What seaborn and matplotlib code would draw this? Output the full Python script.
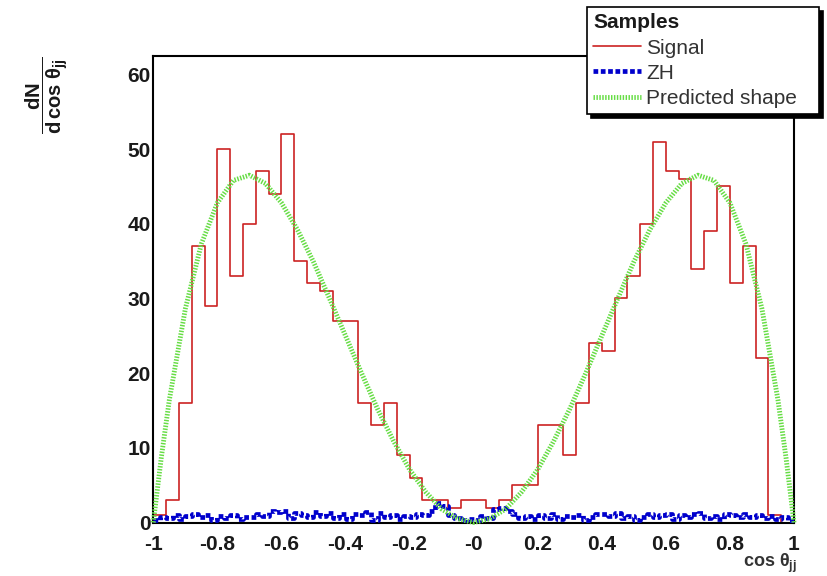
import numpy as np
import pandas as pd
import matplotlib
matplotlib.use("Agg")
import matplotlib.pyplot as plt
import seaborn as sns
from matplotlib.lines import Line2D
from matplotlib.ticker import MultipleLocator

# ---------------- data ----------------
x_range = (-1.0, 1.0)
signal_nbins = 50
signal_counts = [1, 3, 16, 37, 29, 50, 33, 40, 47, 44, 52, 35, 32, 31, 27, 27, 16, 13, 16, 9, 6, 3, 3, 2, 3,
                 3, 2, 3, 5, 5, 13, 13, 9, 16, 24, 23, 30, 33, 40, 51, 47, 46, 34, 39, 45, 32, 37, 22, 1, 0]

zh_nbins = 100
zh_counts = [0.3, 0.8, 0.6, 1.0, 0.5, 0.9, 1.1, 0.7, 1.0, 0.4,
             0.9, 0.6, 1.0, 0.5, 0.8, 0.7, 1.2, 0.9, 1.6, 1.4,
             1.5, 0.6, 1.3, 1.0, 0.7, 1.4, 0.9, 1.3, 0.6, 1.1,
             0.5, 1.2, 1.0, 1.4, 0.4, 1.3, 0.7, 1.0, 0.5, 0.9,
             0.8, 1.1, 1.0, 1.5, 2.6, 2.2, 1.0, 0.6, 0.3, 0.5,
             0.4, 0.9, 0.6, 1.8, 2.0, 1.5, 1.2, 0.6, 0.9, 0.5,
             1.0, 0.6, 1.1, 0.5, 0.9, 0.7, 1.0, 0.4, 0.8, 1.2,
             1.1, 0.9, 1.3, 0.6, 0.9, 0.4, 0.7, 1.2, 0.8, 1.0,
             1.2, 0.5, 1.0, 0.7, 1.1, 1.3, 0.6, 0.9, 0.5, 1.1,
             1.0, 0.7, 1.2, 0.8, 1.0, 0.6, 0.9, 0.5, 0.7, 0.2]

pred_x = [-1.0, -0.975, -0.95, -0.9, -0.85, -0.8, -0.75, -0.7, -0.65, -0.6, -0.55, -0.5,
          -0.45, -0.4, -0.35, -0.3, -0.25, -0.2, -0.15, -0.1, -0.05, 0.0,
          0.05, 0.1, 0.15, 0.2, 0.25, 0.3, 0.35, 0.4, 0.45, 0.5, 0.55,
          0.6, 0.65, 0.7, 0.75, 0.8, 0.85, 0.9, 0.95, 0.975, 1.0]
pred_y = [0.0, 8.7, 16.4, 28.6, 37.3, 42.8, 45.8, 46.5, 45.4, 42.8, 39.2, 34.9,
          30.0, 25.0, 20.0, 15.2, 10.9, 7.1, 4.1, 1.8, 0.5, 0.0,
          0.5, 1.8, 4.1, 7.1, 10.9, 15.2, 20.0, 25.0, 30.0, 34.9, 39.2,
          42.8, 45.4, 46.5, 45.8, 42.8, 37.3, 28.6, 16.4, 8.7, 0.0]

x_tick_values = [-1.0, -0.8, -0.6, -0.4, -0.2, 0.0, 0.2, 0.4, 0.6, 0.8, 1.0]
x_tick_labels = ["-1", "-0.8", "-0.6", "-0.4", "-0.2", "-0", "0.2", "0.4", "0.6", "0.8", "1"]
y_tick_values = [0, 10, 20, 30, 40, 50, 60]
y_tick_labels = ["0", "10", "20", "30", "40", "50", "60"]

legend_title = "Samples"
legend_labels = ["Signal", "ZH", "Predicted shape"]

# ---------------- style ----------------
sns.set_style("white")
plt.rcParams["font.family"] = ["Liberation Sans", "DejaVu Sans"]
plt.rcParams["mathtext.fontset"] = "custom"
plt.rcParams["mathtext.rm"] = "Liberation Sans:bold"
plt.rcParams["mathtext.it"] = "Liberation Sans:bold"
plt.rcParams["mathtext.bf"] = "Liberation Sans:bold"
plt.rcParams["mathtext.sf"] = "Liberation Sans:bold"

RED = "#cc2222"
BLUE = "#0000cc"
GREEN = "#66dd44"

fig = plt.figure(figsize=(8.28, 5.76), dpi=100)
fig.patch.set_facecolor("white")
ax = fig.add_axes([153.3 / 828, 1 - 522.5 / 576, 640.7 / 828, (522.5 - 55.7) / 576])

sig_edges = np.linspace(x_range[0], x_range[1], signal_nbins + 1)
zh_edges = np.linspace(x_range[0], x_range[1], zh_nbins + 1)
sig_df = pd.DataFrame({"x": (sig_edges[:-1] + sig_edges[1:]) / 2, "w": signal_counts})
zh_df = pd.DataFrame({"x": (zh_edges[:-1] + zh_edges[1:]) / 2, "w": zh_counts})
pred_df = pd.DataFrame({"x": pred_x, "y": pred_y})

sns.histplot(data=sig_df, x="x", weights="w", bins=sig_edges.tolist(), element="step", fill=False,
             color=RED, linewidth=1.2, ax=ax, zorder=2)
sns.histplot(data=zh_df, x="x", weights="w", bins=zh_edges.tolist(), element="step", fill=False,
             color=BLUE, linewidth=3.4, linestyle=(0, (1, 0.55)), ax=ax, zorder=3)
sns.lineplot(data=pred_df, x="x", y="y", sort=False, estimator=None, color=GREEN,
             linewidth=3.5, linestyle=(0, (0.3, 0.3)), ax=ax, zorder=4, clip_on=False)

ax.set_xlim(*x_range)
ax.set_ylim(0, 62.5)
ax.set_xlabel("")
ax.set_ylabel("")

for s in ax.spines.values():
    s.set_visible(True)
    s.set_color("black")
    s.set_linewidth(1.5)

ax.set_xticks(x_tick_values, labels=x_tick_labels)
ax.set_yticks(y_tick_values, labels=y_tick_labels)
ax.xaxis.set_minor_locator(MultipleLocator(0.04))
ax.yaxis.set_minor_locator(MultipleLocator(2))
ax.tick_params(which="both", direction="in", top=False, right=False, colors="black", width=1.2)
ax.tick_params(axis="y", which="major", length=13.5, pad=2)
ax.tick_params(axis="y", which="minor", length=6.8)
ax.tick_params(axis="x", which="major", length=10, pad=9)
ax.tick_params(axis="x", which="minor", length=5)
for lab in ax.get_xticklabels() + ax.get_yticklabels():
    lab.set_fontsize(15)
    lab.set_fontweight("bold")
    lab.set_color("#1a1a1a")

# axis titles
fig.text(47 / 828, 1 - 95 / 576, r"$\dfrac{dN}{d\,\cos\,\theta_{jj}}$", rotation=90,
         ha="center", va="center", fontsize=14.5, color="#1a1a1a")
fig.text(797 / 828, 1 - 567 / 576, r"cos $\theta_{jj}$", ha="right", va="baseline",
         fontsize=13, fontweight="bold", color="#333333")

# legend
handles = [
    Line2D([], [], color=RED, linewidth=1.2),
    Line2D([], [], color=BLUE, linewidth=3.4, linestyle=(0, (1, 0.55))),
    Line2D([], [], color=GREEN, linewidth=3.5, linestyle=(0, (0.3, 0.3))),
]
leg = fig.legend(handles, legend_labels, title=legend_title, loc="upper left",
                 bbox_to_anchor=(587 / 828, 0.5, 232 / 828, 1 - 7 / 576 - 0.5),
                 mode="expand", borderaxespad=0, fontsize=15,
                 title_fontproperties={"weight": "bold", "size": 15},
                 alignment="left", frameon=True, fancybox=False, framealpha=1,
                 edgecolor="black", facecolor="white",
                 shadow={"color": "black", "alpha": 1, "ox": 3, "oy": -3},
                 handlelength=2.3, handletextpad=0.25, labelspacing=0.3,
                 borderpad=0.3)
leg.get_frame().set_linewidth(1.2)
for t in leg.get_texts():
    t.set_color("#333333")
leg.get_title().set_color("#1a1a1a")

fig.savefig("out.png", dpi=100)
